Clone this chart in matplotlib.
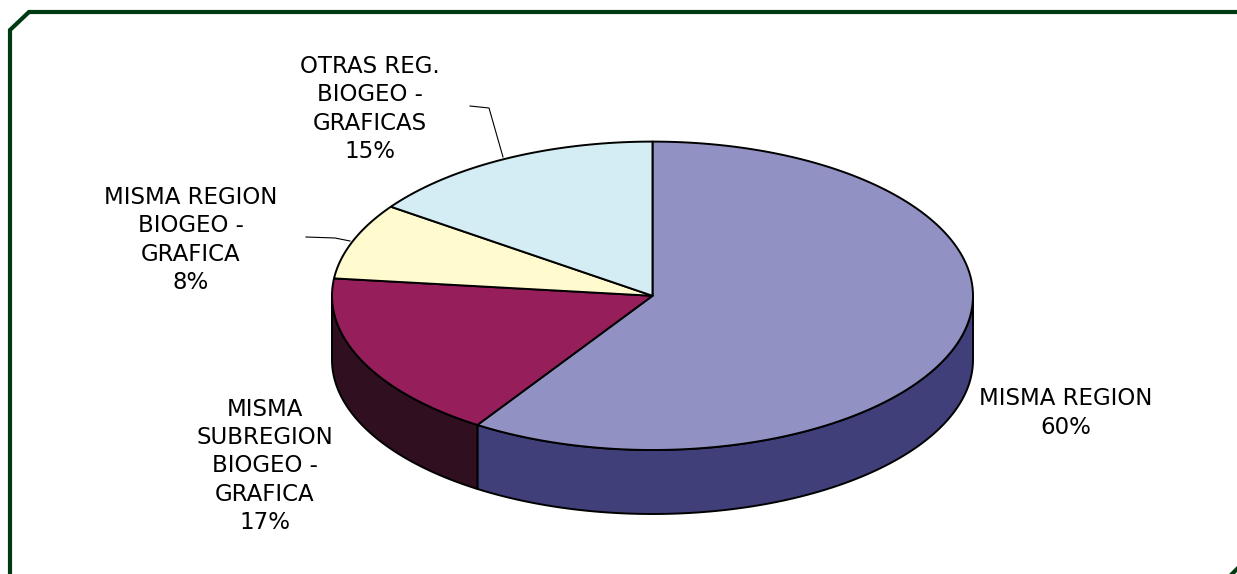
import numpy as np
import matplotlib.pyplot as plt
from matplotlib.patches import Polygon

# slice shares (clockwise from 12 o'clock)
values = [59.2, 17.6, 8.0, 15.2]
labels = ["MISMA REGION\n60%",
          "MISMA\nSUBREGION\nBIOGEO -\nGRAFICA\n17%",
          "MISMA REGION\nBIOGEO -\nGRAFICA\n8%",
          "OTRAS REG.\nBIOGEO -\nGRAFICAS\n15%"]
top_colors = ["#9291C3", "#961F5B", "#FFFBCE", "#D4ECF3"]
side_colors = ["#403F79", "#300F21", "#9E9A70", "#7E98A0"]

# pie geometry in pixels
cx, cy = 652.5, 295.8
a, b = 320.5, 154.2
depth = 64

fig = plt.figure(figsize=(12.37, 5.74), dpi=100)
ax = fig.add_axes([0, 0, 1, 1])
ax.set_xlim(0, 1237)
ax.set_ylim(574, 0)
ax.axis("off")


def pt(theta_deg, dy=0):
    t = np.radians(theta_deg)
    return cx + a * np.sin(t), cy - b * np.cos(t) + dy


# frame
ax.plot([10, 10, 29, 1260], [600, 30, 12, 12], color="#003A12", lw=3, solid_joinstyle="miter")
ax.plot([1222, 1250], [584, 556], color="#003A12", lw=3)

bounds = np.concatenate([[0], np.cumsum(values) / sum(values) * 360])

# side walls (front half only: 90..270 deg)
for i in range(len(values)):
    s, e = max(bounds[i], 90), min(bounds[i + 1], 270)
    if e <= s:
        continue
    th = np.linspace(s, e, 100)
    top = [pt(t) for t in th]
    bot = [pt(t, depth) for t in th[::-1]]
    ax.add_patch(Polygon(top + bot, closed=True, facecolor=side_colors[i],
                         edgecolor="black", lw=1.4, joinstyle="round"))

# top faces
for i in range(len(values)):
    th = np.linspace(bounds[i], bounds[i + 1], 200)
    verts = [(cx, cy)] + [pt(t) for t in th]
    ax.add_patch(Polygon(verts, closed=True, facecolor=top_colors[i],
                         edgecolor="black", lw=1.4, joinstyle="round"))

# leader lines
ax.plot([470, 489, 503], [106, 108, 157], color="black", lw=0.8)
ax.plot([306, 335, 350], [237, 238, 241], color="black", lw=0.8)

label_pos = [(1066, 413), (265, 466), (191, 240), (370, 109)]
for lab, (x, y) in zip(labels, label_pos):
    ax.text(x, y, lab, ha="center", va="center", multialignment="center",
            fontsize=16.5, family="DejaVu Sans", linespacing=1.3, color="black")

fig.savefig("out.png", dpi=100)
